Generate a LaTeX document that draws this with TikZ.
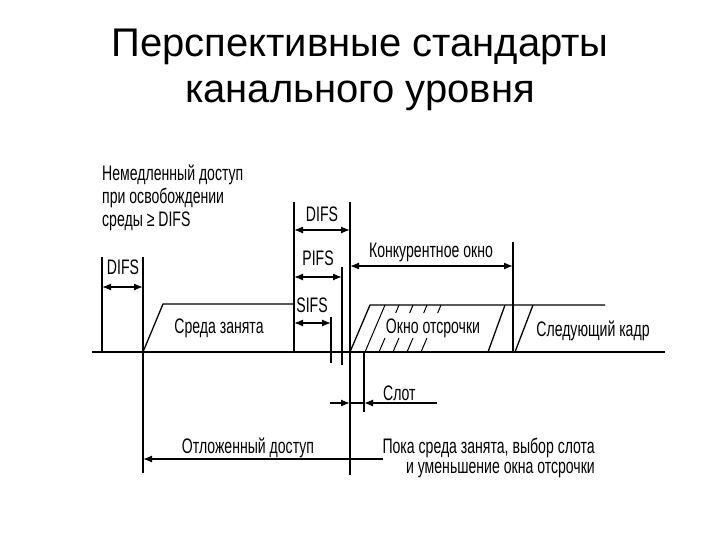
\documentclass[tikz,border=0pt]{standalone}
\usepackage{fontspec}
\setmainfont{Liberation Sans}
\newfontfamily\lbl[FakeStretch=0.67]{Liberation Sans}
\usetikzlibrary{arrows.meta}

\begin{document}
\begin{tikzpicture}[x=1pt,y=-1pt,
    lab/.style={font=\lbl\fontsize{21}{23}\selectfont,inner sep=0pt},
    ttl/.style={font=\fontsize{40}{46}\selectfont,inner sep=0pt,anchor=base},
    vline/.style={line width=1.8pt},
    aline/.style={line width=1.3pt},
    arr/.style={aline,-{Latex[length=9pt,width=7pt]}},
    darr/.style={aline,{Latex[length=9pt,width=7pt]}-{Latex[length=9pt,width=7pt]}}]
  \useasboundingbox (0,0) rectangle (720,540);
  \node[ttl] (t1) at (360,57) {Перспективные стандарты};
  \node[ttl] (t2) at (360,103) {канального уровня};

  \coordinate (L) at (92,352);
  \coordinate (R) at (665,352);
  \coordinate (A1) at (102,257);
  \coordinate (A2) at (102,352);
  \coordinate (B1) at (143,257);
  \coordinate (B2) at (143,473);
  \coordinate (C1) at (294,202);
  \coordinate (C2) at (294,352);
  \coordinate (D1) at (350,202);
  \coordinate (D2) at (350,475);
  \coordinate (P1) at (342,267);
  \coordinate (P2) at (342,365);
  \coordinate (S1) at (331,317);
  \coordinate (S2) at (331,363);
  \coordinate (K1) at (513,242);
  \coordinate (K2) at (513,352);
  \coordinate (T1) at (364,352);
  \coordinate (T2) at (364,412);
  \draw[line width=2.2pt] (L) -- (R);
  \draw[vline] (A1) -- (A2);
  \draw[vline] (B1) -- (B2);
  \draw[vline] (C1) -- (C2);
  \draw[vline] (D1) -- (D2);
  \draw[vline] (P1) -- (P2);
  \draw[vline] (S1) -- (S2);
  \draw[vline] (K1) -- (K2);
  \draw[aline] (T1) -- (T2);

  \coordinate (M1) at (143,352);
  \coordinate (M2) at (163,304);
  \coordinate (M3) at (294,304);
  \draw[aline] (M1) -- (M2) -- (M3);
  \coordinate (W1) at (350,352);
  \coordinate (W2) at (370,305);
  \coordinate (W3) at (605,305);
  \coordinate (W4) at (488,352);
  \coordinate (W5) at (505,305);
  \coordinate (N1) at (515,352);
  \coordinate (N2) at (533,305);
  \draw[aline] (W1) -- (W2) -- (W3);
  \draw[aline] (W4) -- (W5);
  \draw[aline] (N1) -- (N2);
  \draw[line width=1pt] (365,352) -- (385,305);
  \foreach \x in {379,393,407,421} {
    \draw[line width=1pt] (\x,352) -- ++(6,-14);
    \draw[line width=1pt] (\x+20,305) -- ++(-3.3,8);
  }

  \coordinate (a1) at (102,287);
  \coordinate (a2) at (143,287);
  \coordinate (b1) at (294,230);
  \coordinate (b2) at (350,230);
  \coordinate (p1) at (294,277);
  \coordinate (p2) at (342,277);
  \coordinate (s1) at (294,323);
  \coordinate (s2) at (331,323);
  \coordinate (k1) at (350,266);
  \coordinate (k2) at (513,266);
  \coordinate (o1) at (330,403);
  \coordinate (o2) at (350,403);
  \coordinate (o3) at (364,403);
  \coordinate (o4) at (437,403);
  \coordinate (d1) at (383,459);
  \coordinate (d2) at (143,459);
  \draw[darr] (a1) -- (a2);
  \draw[darr] (b1) -- (b2);
  \draw[darr] (p1) -- (p2);
  \draw[darr] (s1) -- (s2);
  \draw[darr] (k1) -- (k2);
  \draw[arr] (o1) -- (o2);
  \draw[aline] (o2) -- (o3);
  \draw[arr] (o4) -- (o3);
  \draw[arr] (d1) -- (d2);

  \node[lab,anchor=north west,align=left] (imm) at (102,165) {Немедленный доступ\\при освобождении\\среды ≥ DIFS};
  \node[lab,anchor=base] (difsA) at (123,274) {DIFS};
  \node[lab,anchor=base] (busy) at (219,333) {Среда занята};
  \node[lab,anchor=base] (difsB) at (322,222) {DIFS};
  \node[lab,anchor=base] (pifs) at (318,265) {PIFS};
  \node[lab,anchor=base] (sifs) at (312,312) {SIFS};
  \node[lab,anchor=base] (cw) at (431,258) {Конкурентное окно};
  \node[lab,anchor=base] (bo) at (433,333) {Окно отсрочки};
  \node[lab,anchor=base] (nf) at (593,336) {Следующий кадр};
  \node[lab,anchor=base west] (slot) at (383,400) {Слот};
  \node[lab,anchor=base] (da) at (248,453) {Отложенный доступ};
  \node[lab,anchor=base east] (w1) at (595,453) {Пока среда занята, выбор слота};
  \node[lab,anchor=base east] (w2) at (595,473) {и уменьшение окна отсрочки};
\end{tikzpicture}
\end{document}
